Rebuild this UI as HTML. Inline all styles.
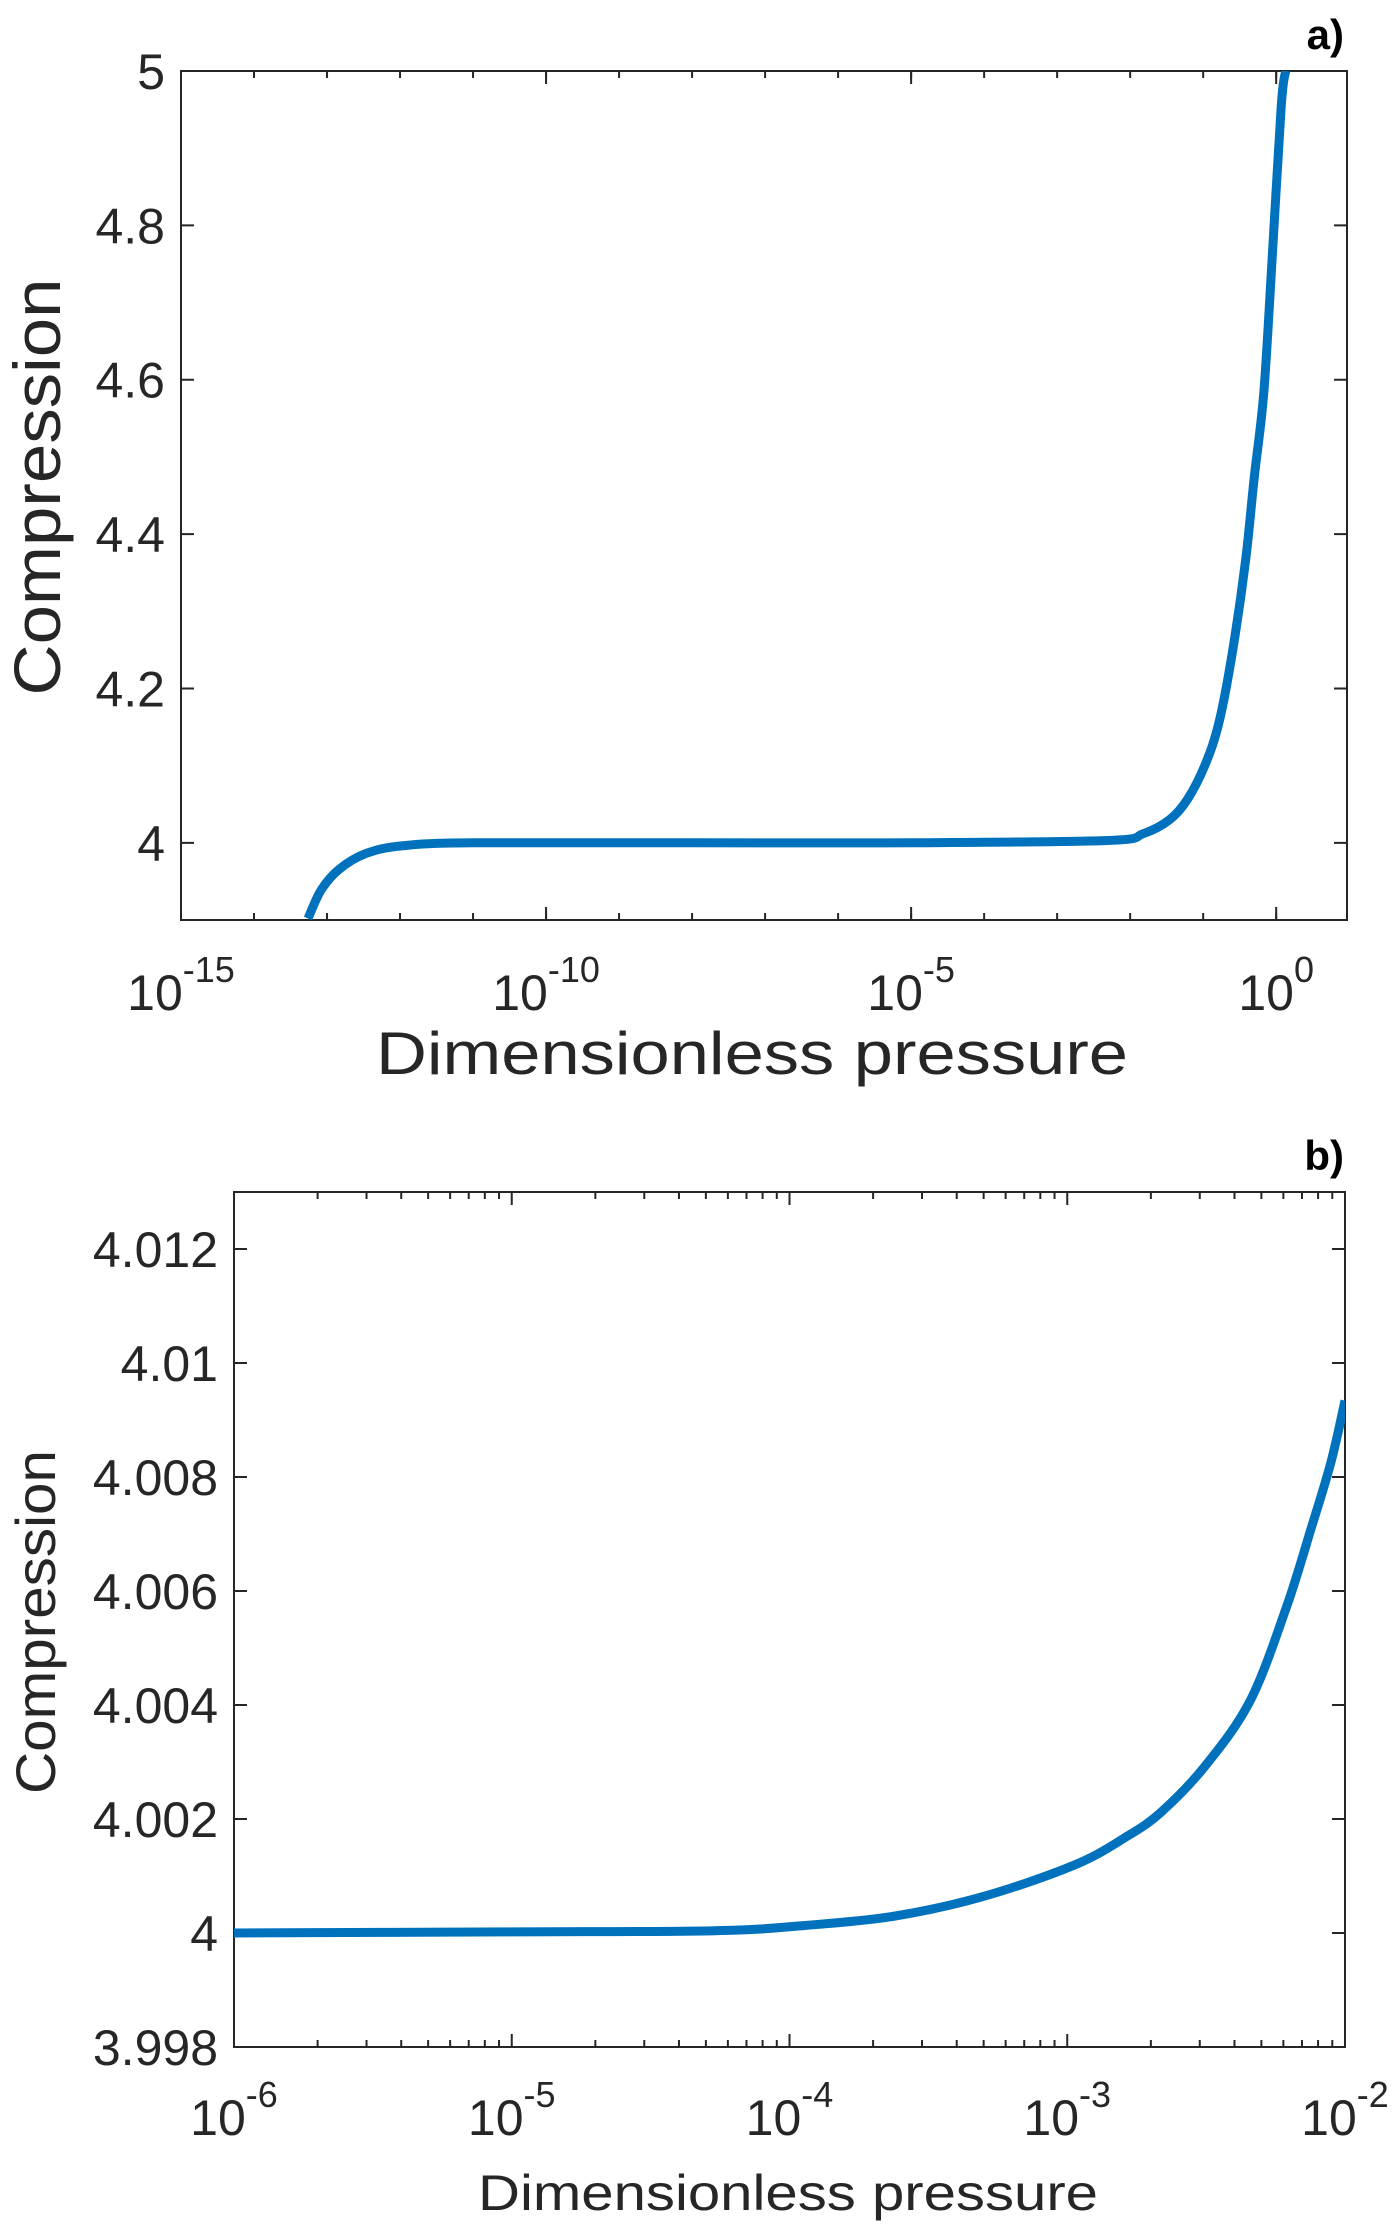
<!DOCTYPE html>
<html><head><meta charset="utf-8">
<style>
html,body{margin:0;padding:0;background:#fff;}
svg{display:block;font-family:"Liberation Sans",Arial,sans-serif;}
</style></head>
<body>
<svg id="fig" width="1400" height="2233" viewBox="0 0 1400 2233" xmlns="http://www.w3.org/2000/svg">
<g id="pa"></g>
<g id="pb"></g>
</svg>
<script>
// Panel a data
const aTickExp = [-15, -10, -5, 0];
const aYTicks = [4, 4.2, 4.4, 4.6, 4.8, 5];
const aYTickLabels = ["4", "4.2", "4.4", "4.6", "4.8", "5"];
const aLogP = [-13.26, -13.08, -12.83, -12.47, -11.98, -11, -8, -5, -2.31, -1.82, -1.46, -1.21, -0.97, -0.78, -0.60, -0.42, -0.30, -0.17, -0.05, 0.07, 0.13];
const aComp = [3.902, 3.939, 3.966, 3.986, 3.996, 4.0, 4.0, 4.0, 4.003, 4.012, 4.030, 4.057, 4.102, 4.157, 4.247, 4.365, 4.474, 4.583, 4.765, 4.956, 5.0];
// Panel b data
const bTickExp = [-6, -5, -4, -3, -2];
const bYTicks = [3.998, 4, 4.002, 4.004, 4.006, 4.008, 4.01, 4.012];
const bYTickLabels = ["3.998", "4", "4.002", "4.004", "4.006", "4.008", "4.01", "4.012"];
const bLogP = [-6, -5, -4.27, -3.95, -3.63, -3.31, -2.98, -2.79, -2.66, -2.50, -2.34, -2.21, -2.12, -2.05, -2.0];
const bComp = [4.0, 4.00002, 4.00004, 4.00013, 4.00029, 4.00063, 4.00118, 4.00168, 4.00213, 4.00295, 4.00409, 4.00573, 4.00713, 4.00827, 4.00934];

const NS = "http://www.w3.org/2000/svg";
function mk(tag, attrs, parent) {
  const e = document.createElementNS(NS, tag);
  for (const k in attrs) e.setAttribute(k, attrs[k]);
  parent.appendChild(e);
  return e;
}

function smoothPath(pts) {
  let d = "M" + pts[0][0].toFixed(1) + "," + pts[0][1].toFixed(1);
  for (let i = 0; i < pts.length - 1; i++) {
    const p0 = pts[Math.max(0, i - 1)], p1 = pts[i], p2 = pts[i + 1], p3 = pts[Math.min(pts.length - 1, i + 2)];
    const c1x = p1[0] + (p2[0] - p0[0]) / 6, c1y = p1[1] + (p2[1] - p0[1]) / 6;
    const c2x = p2[0] - (p3[0] - p1[0]) / 6, c2y = p2[1] - (p3[1] - p1[1]) / 6;
    d += "C" + c1x.toFixed(1) + "," + c1y.toFixed(1) + " " + c2x.toFixed(1) + "," + c2y.toFixed(1) + " " + p2[0].toFixed(1) + "," + p2[1].toFixed(1);
  }
  return d;
}

function panel(g, cfg) {
  const {L, R, T, B, xmin, xmax, ymin, ymax} = cfg;
  const sx = v => L + (v - xmin) / (xmax - xmin) * (R - L);
  const sy = v => B - (v - ymin) / (ymax - ymin) * (B - T);
  const ax = "#262626";
  const box = mk("rect", {x: L, y: T, width: R - L, height: B - T, fill: "none", stroke: ax, "stroke-width": 2}, g);
  
  
  for (let d = Math.floor(xmin); d < xmax; d++) {
    const subs = cfg.minorPerDecade ? [2,3,4,5,6,7,8,9] : [];
    for (const s of subs) {
      const v = d + Math.log10(s);
      if (v <= xmin || v >= xmax) continue;
      const t = mk("path", {d: `M${sx(v)},${B}v-7M${sx(v)},${T}v7`, stroke: ax, "stroke-width": 2}, g);
      
      
    }
    if (!cfg.minorPerDecade && d > xmin) {
      const t = mk("path", {d: `M${sx(d)},${B}v-7M${sx(d)},${T}v7`, stroke: ax, "stroke-width": 2}, g);
      
      
    }
  }
  cfg.xTicks.forEach(e => {
    const x = sx(e);
    const t = mk("path", {d: `M${x},${B}v-13M${x},${T}v13`, stroke: ax, "stroke-width": 2}, g);
    
    
    const tx = mk("text", {x: x, y: cfg.xLabY, "text-anchor": "middle", fill: ax, "font-size": 50}, g);
    
    
    const base = mk("tspan", {}, tx); base.textContent = "10";
    const sup = mk("tspan", {dy: -28, "font-size": 36}, tx); sup.textContent = String(e);
  });
  cfg.yTicks.forEach((v, i) => {
    const y = sy(v);
    const t = mk("path", {d: `M${L},${y}h13M${R},${y}h-13`, stroke: ax, "stroke-width": 2}, g);
    
    
    const tx = mk("text", {x: L - 16, y: y + 18, "text-anchor": "end", fill: ax, "font-size": 50}, g);
    
    
    tx.textContent = cfg.yLabels[i];
  });
  const clip = mk("clipPath", {id: cfg.id + "clip"}, g);
  mk("rect", {x: L, y: T, width: R - L, height: B - T}, clip);
  const pts = cfg.xs.map((v, i) => [sx(v), sy(cfg.ys[i])]);
  const p = mk("path", {d: smoothPath(pts), fill: "none", stroke: "#0072BD", "stroke-width": 9, "stroke-linejoin": "round", "clip-path": `url(#${cfg.id}clip)`}, g);
  
  
  const xt = mk("text", {x: cfg.xTitle[0], y: cfg.xTitle[1], "text-anchor": "middle", fill: ax, "font-size": cfg.xTitle[2], textLength: cfg.xTitle[3], lengthAdjust: "spacingAndGlyphs"}, g);
  
  
  xt.textContent = "Dimensionless pressure";
  const yt = mk("text", {x: 0, y: 0, "text-anchor": "middle", fill: ax, "font-size": cfg.yTitle[2], textLength: cfg.yTitle[3], lengthAdjust: "spacingAndGlyphs", transform: `translate(${cfg.yTitle[0]},${cfg.yTitle[1]}) rotate(-90)`}, g);
  
  
  yt.textContent = "Compression";
  const pl = mk("text", {x: cfg.plab[0], y: cfg.plab[1], "text-anchor": "end", fill: "#000", "font-size": 42, "font-weight": "bold"}, g);
  
  
  pl.textContent = cfg.plab[2];
}

panel(document.getElementById("pa"), {
  id: "a", L: 181, R: 1347, T: 71, B: 920, xmin: -15, xmax: 0.97, ymin: 3.9, ymax: 5.0,
  xTicks: aTickExp, yTicks: aYTicks, yLabels: aYTickLabels, xs: aLogP, ys: aComp,
  minorPerDecade: false, xLabY: 1010,
  xTitle: [752, 1074, 60, 752], yTitle: [60, 487, 66, 417], plab: [1344, 49, "a)"]
});
panel(document.getElementById("pb"), {
  id: "b", L: 234, R: 1345, T: 1192, B: 2047, xmin: -6, xmax: -2, ymin: 3.998, ymax: 4.013,
  xTicks: bTickExp, yTicks: bYTicks, yLabels: bYTickLabels, xs: bLogP, ys: bComp,
  minorPerDecade: true, xLabY: 2135,
  xTitle: [788, 2210, 50, 620], yTitle: [55, 1622, 56, 344], plab: [1344, 1170, "b)"]
});
</script>
</body></html>
